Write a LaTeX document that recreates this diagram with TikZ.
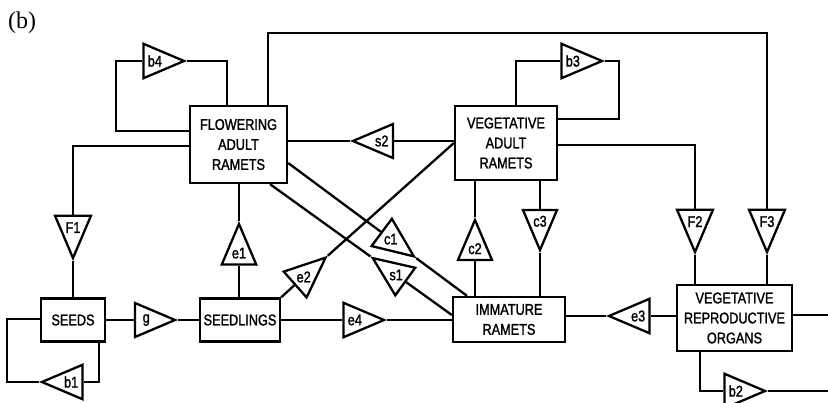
\documentclass[tikz,border=0pt]{standalone}
\usepackage{fontspec}
\usetikzlibrary{shapes.geometric,calc}
\newfontfamily\dfont[FakeStretch=0.82,FakeBold=1.5]{Liberation Sans}
\newfontfamily\lfont{Liberation Serif}
\begin{document}
\begin{tikzpicture}[x=1pt,y=-1pt,line width=2.3pt,
  box/.style={draw,rectangle,align=center,inner sep=0pt,font=\dfont\fontsize{15.5}{20}\selectfont},
  tri/.style={draw,isosceles triangle,isosceles triangle apex angle=46,shape border uses incircle,minimum width=34pt,minimum height=34pt,inner sep=1pt,font=\dfont\fontsize{15.5}{18}\selectfont}]
\useasboundingbox (0,0) rectangle (828,402);
\node[anchor=base west,inner sep=0pt,font=\lfont\fontsize{24}{28}\selectfont] (lbl) at (7,28.5) {(b)};
% boxes
\node[box,minimum width=97pt,minimum height=77pt] (far) at (238.5,144.5) {FLOWERING\\ADULT\\RAMETS};
\node[box,minimum width=102pt,minimum height=74pt] (var) at (506,143) {VEGETATIVE\\ADULT\\RAMETS};
\node[box,minimum width=64pt,minimum height=43pt] (seeds) at (73,320) {SEEDS};
\node[box,minimum width=80pt,minimum height=43pt] (sdl) at (240,320) {SEEDLINGS};
\node[box,minimum width=112pt,minimum height=45pt] (imm) at (509,319.5) {IMMATURE\\RAMETS};
\node[box,minimum width=115pt,minimum height=66pt] (vro) at (734.5,318) {VEGETATIVE\\REPRODUCTIVE\\ORGANS};
% triangles
\node[tri,shape border rotate=0,anchor=apex] (b4) at (187,61) {b4};
\node[tri,shape border rotate=0,anchor=apex] (b3) at (605,61) {b3};
\node[tri,shape border rotate=180,anchor=apex] (s2) at (350,141) {s2};
\node[tri,shape border rotate=270,anchor=apex] (F1) at (73,261) {F1};
\node[tri,shape border rotate=270,anchor=apex] (F2) at (695,255) {F2};
\node[tri,shape border rotate=270,anchor=apex] (F3) at (767,255) {F3};
\node[tri,shape border rotate=90,anchor=apex] (e1) at (239,221) {e1};
\node[tri,shape border rotate=0,anchor=apex] (g) at (178,320) {g};
\node[tri,shape border rotate=180,anchor=apex] (b1) at (39,382) {b1};
\node[tri,shape border rotate=0,anchor=apex] (e4) at (387,320) {e4};
\node[tri,shape border rotate=90,anchor=apex] (c2) at (475,217) {c2};
\node[tri,shape border rotate=270,anchor=apex] (c3) at (540,253) {c3};
\node[tri,shape border rotate=180,anchor=apex] (e3) at (606,316) {e3};
\node[tri,shape border rotate=0,anchor=apex] (b2) at (768,391) {b2};
% diagonal ones
\coordinate (c1s) at (far.east |- 0,163);
\coordinate (c1e) at (imm.north -| 467,0);
\coordinate (s1s) at (far.south -| 270,0);
\coordinate (s1e) at (imm.west |- 0,315);
\node[tri,shape border rotate=41.5,anchor=apex] (e2) at ($(sdl.north east)!0.27!(var.west)$) {e2};
\node[tri,shape border rotate=-36.7,anchor=apex] (c1) at ($(c1s)!0.716!(c1e)$) {c1};
\node[tri,shape border rotate=144.2,anchor=apex] (s1) at ($(s1s)!0.552!(s1e)$) {s1};
\coordinate (o1) at (828,315);
\coordinate (o2) at (828,391);
% connectors
\draw (far.west |- 0,131) -| (116,61) -- (b4.lower side);
\draw (b4.apex) -| (far.north -| 227,0);
\draw (far.north -| 268,0) |- (767,33) -- (F3.lower side);
\draw (F3.apex) -- (vro.north -| F3.apex);
\draw (var.east |- 0,145) -| (F2.lower side);
\draw (F2.apex) -- (vro.north -| F2.apex);
\draw (var.north -| 516,0) |- (b3.lower side);
\draw (b3.apex) -| (619,119) -- (var.east |- 0,119);
\draw (far.east |- s2.apex) -- (s2.apex);
\draw (s2.lower side) -- (var.west |- s2.lower side);
\draw (far.west |- 0,146) -| (F1.lower side);
\draw (F1.apex) -- (seeds.north -| F1.apex);
\draw (seeds.west |- 0,319) -| (7,382) -- (b1.apex);
\draw (b1.lower side) -| (seeds.south -| 99,0);
\draw (seeds.east |- g.lower side) -- (g.lower side);
\draw (g.apex) -- (sdl.west |- g.apex);
\draw (sdl.north -| e1.lower side) -- (e1.lower side);
\draw (e1.apex) -- (far.south -| e1.apex);
\draw (sdl.north east) -- (e2.lower side);
\draw (e2.apex) -- (var.west);
\draw (sdl.east |- e4.lower side) -- (e4.lower side);
\draw (e4.apex) -- (imm.west |- e4.apex);
\draw (c1s) -- (c1.lower side);
\draw (c1.apex) -- (c1e);
\draw (s1e) -- (s1.lower side);
\draw (s1.apex) -- (s1s);
\draw (imm.north -| c2.lower side) -- (c2.lower side);
\draw (c2.apex) -- (var.south -| c2.apex);
\draw (var.south -| c3.lower side) -- (c3.lower side);
\draw (c3.apex) -- (imm.north -| c3.apex);
\draw (imm.east |- e3.apex) -- (e3.apex);
\draw (e3.lower side) -- (vro.west |- e3.lower side);
\draw (vro.east |- o1) -- (o1);
\draw (vro.south -| 700,0) |- (b2.lower side);
\draw (b2.apex) -- (o2);
\end{tikzpicture}
\end{document}
